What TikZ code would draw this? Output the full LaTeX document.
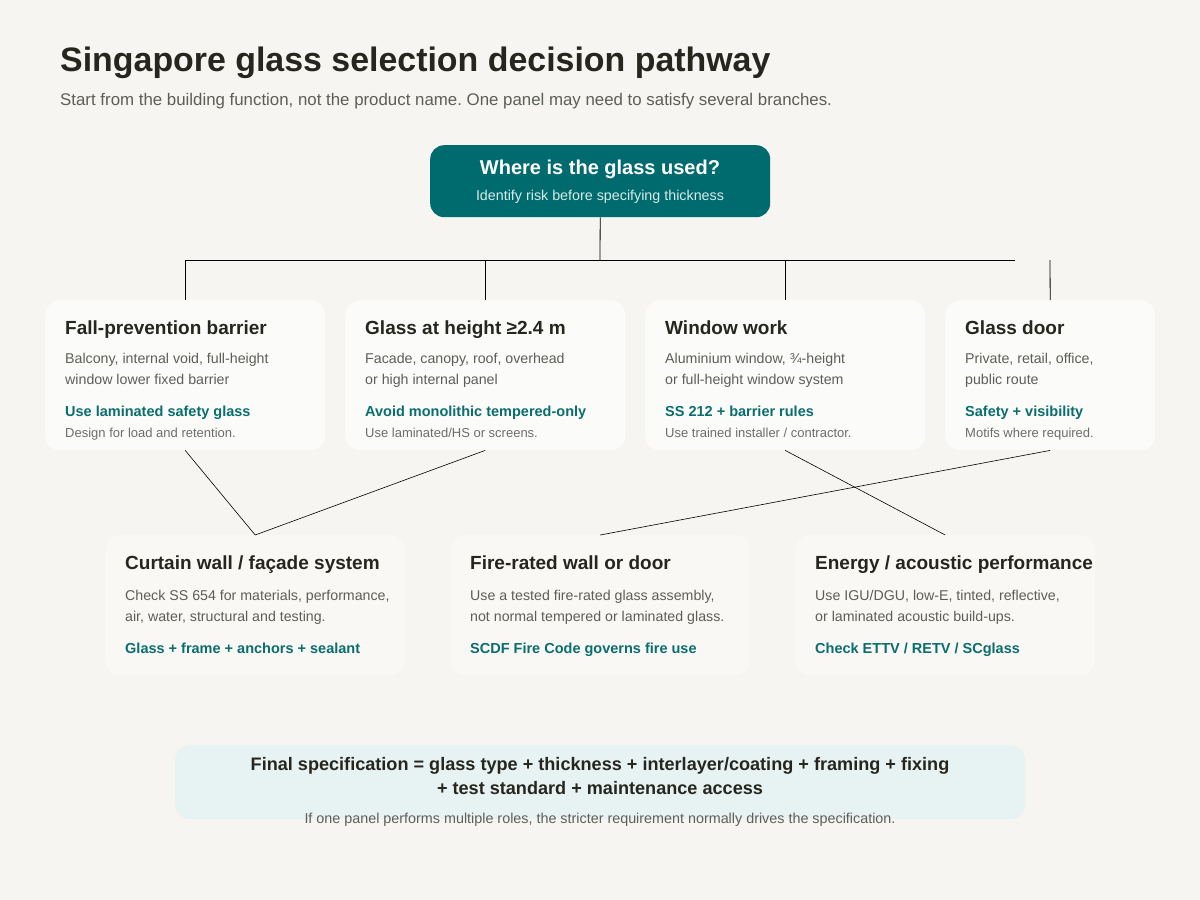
\documentclass[tikz,border=0pt]{standalone}
\usepackage{fontspec}
\setmainfont{Liberation Sans}
\frenchspacing
\definecolor{bg}{HTML}{F6F5F1}
\definecolor{cardA}{HTML}{FBFBF9}
\definecolor{cardB}{HTML}{F9F8F5}
\definecolor{teal}{HTML}{006B6E}
\definecolor{tealtxt}{HTML}{0A6E6F}
\definecolor{dark}{HTML}{26261F}
\definecolor{gray}{HTML}{5E5E58}
\definecolor{lgray}{HTML}{6E6E68}
\definecolor{finalbg}{HTML}{E7F3F2}
\definecolor{subw}{HTML}{D6ECEA}
\tikzset{
  cardbox/.style={fill=cardA, draw=none, rounded corners=15pt, inner sep=0pt, anchor=north west},
  cardboxB/.style={fill=cardB, draw=none, rounded corners=15pt, inner sep=0pt, anchor=north west},
  ctitle/.style={anchor=base west, inner sep=0pt, font=\fontsize{19}{23}\selectfont\bfseries, text=dark},
  cdesc/.style={anchor=base west, inner sep=0pt, font=\fontsize{14.2}{21}\selectfont, text=gray, align=left},
  cteal/.style={anchor=base west, inner sep=0pt, font=\fontsize{14.5}{18}\selectfont\bfseries, text=tealtxt},
  cnote/.style={anchor=base west, inner sep=0pt, font=\fontsize{13}{16}\selectfont, text=lgray},
  conn/.style={draw=black, line width=0.8pt},
}
\begin{document}
\begin{tikzpicture}[x=1pt,y=-1pt]
\fill[bg] (0,0) rectangle (1200,900);
\useasboundingbox (0,0) rectangle (1200,900);

% titles
\node[anchor=base west, inner sep=0pt, font=\fontsize{33.9}{40}\selectfont\bfseries, text=dark] (title) at (60,71) {Singapore glass selection decision pathway};
\node[anchor=base west, inner sep=0pt, font=\fontsize{16.85}{20}\selectfont, text=gray] (subtitle) at (60,105) {Start from the building function, not the product name. One panel may need to satisfy several branches.};

% top node
\node[fill=teal, rounded corners=14pt, minimum width=340pt, minimum height=72pt, inner sep=0pt, anchor=north west] (top) at (430,145) {};
\node[anchor=base, inner sep=0pt, font=\fontsize{20}{24}\selectfont\bfseries, text=white] (toptitle) at (600,174) {Where is the glass used?};
\node[anchor=base, inner sep=0pt, font=\fontsize{14.3}{18}\selectfont, text=subw] (topsub) at (600,200) {Identify risk before specifying thickness};

% row 1 cards
\node[cardbox, minimum width=280pt, minimum height=150pt] (c1) at (45,300) {};
\node[cardbox, minimum width=280pt, minimum height=150pt] (c2) at (345,300) {};
\node[cardbox, minimum width=280pt, minimum height=150pt] (c3) at (645,300) {};
\node[cardbox, minimum width=210pt, minimum height=150pt] (c4) at (945,300) {};

\node[ctitle] (t1) at (65,334) {Fall-prevention barrier};
\node[cdesc] (d1a) at (65,363) {Balcony, internal void, full-height};
\node[cdesc] (d1b) at (65,384) {window lower fixed barrier};
\node[cteal] (e1) at (65,416) {Use laminated safety glass};
\node[cnote] (n1) at (65,437) {Design for load and retention.};

\node[ctitle] (t2) at (365,334) {Glass at height ≥2.4 m};
\node[cdesc] (d2a) at (365,363) {Facade, canopy, roof, overhead};
\node[cdesc] (d2b) at (365,384) {or high internal panel};
\node[cteal] (e2) at (365,416) {Avoid monolithic tempered-only};
\node[cnote] (n2) at (365,437) {Use laminated/HS or screens.};

\node[ctitle] (t3) at (665,334) {Window work};
\node[cdesc] (d3a) at (665,363) {Aluminium window, ¾-height};
\node[cdesc] (d3b) at (665,384) {or full-height window system};
\node[cteal] (e3) at (665,416) {SS 212 + barrier rules};
\node[cnote] (n3) at (665,437) {Use trained installer / contractor.};

\node[ctitle] (t4) at (965,334) {Glass door};
\node[cdesc] (d4a) at (965,363) {Private, retail, office,};
\node[cdesc] (d4b) at (965,384) {public route};
\node[cteal] (e4) at (965,416) {Safety + visibility};
\node[cnote] (n4) at (965,437) {Motifs where required.};

% row 2 cards
\node[cardboxB, minimum width=300pt, minimum height=140pt] (c5) at (105,535) {};
\node[cardboxB, minimum width=300pt, minimum height=140pt] (c6) at (450,535) {};
\node[cardboxB, minimum width=300pt, minimum height=140pt] (c7) at (795,535) {};

\node[ctitle] (t5) at (125,569) {Curtain wall / façade system};
\node[cdesc] (d5a) at (125,600) {Check SS 654 for materials, performance,};
\node[cdesc] (d5b) at (125,621) {air, water, structural and testing.};
\node[cteal] (e5) at (125,653) {Glass + frame + anchors + sealant};

\node[ctitle] (t6) at (470,569) {Fire-rated wall or door};
\node[cdesc] (d6a) at (470,600) {Use a tested fire-rated glass assembly,};
\node[cdesc] (d6b) at (470,621) {not normal tempered or laminated glass.};
\node[cteal] (e6) at (470,653) {SCDF Fire Code governs fire use};

\node[ctitle] (t7) at (815,569) {Energy / acoustic performance};
\node[cdesc] (d7a) at (815,600) {Use IGU/DGU, low-E, tinted, reflective,};
\node[cdesc] (d7b) at (815,621) {or laminated acoustic build-ups.};
\node[cteal] (e7) at (815,653) {Check ETTV / RETV / SCglass};

% final box
\node[fill=finalbg, rounded corners=15pt, minimum width=850pt, minimum height=74pt, inner sep=0pt, anchor=north west] (fin) at (175,745) {};
\node[anchor=base, inner sep=0pt, font=\fontsize{18.1}{22}\selectfont\bfseries, text=dark] (fin1) at (600,770) {Final specification = glass type + thickness + interlayer/coating + framing + fixing};
\node[anchor=base, inner sep=0pt, font=\fontsize{18.1}{22}\selectfont\bfseries, text=dark] (fin2) at (600,794) {+ test standard + maintenance access};
\node[anchor=base, inner sep=0pt, font=\fontsize{14.35}{18}\selectfont, text=gray] (fin3) at (600,823) {If one panel performs multiple roles, the stricter requirement normally drives the specification.};

% connectors
\coordinate (j0) at (600,260);
\coordinate (hL) at (185,260);
\coordinate (hR) at (1015,260);
\coordinate (j4) at (1050,260);
\draw[conn] (top.south) -- (j0);
\draw[conn] (hL) -- (hR);
\draw[conn] (c1.north |- j0) -- (c1.north);
\draw[conn] (c2.north |- j0) -- (c2.north);
\draw[conn] (c3.north |- j0) -- (c3.north);
\draw[conn] (j4) -- (c4.north);
\draw[conn, line width=0.6pt] (c1.south) -- (c5.north);
\draw[conn, line width=0.6pt] (c2.south) -- (c5.north);
\draw[conn, line width=0.6pt] (c3.south) -- (c7.north);
\draw[conn, line width=0.6pt] (c4.south) -- (c6.north);
\end{tikzpicture}
\end{document}
